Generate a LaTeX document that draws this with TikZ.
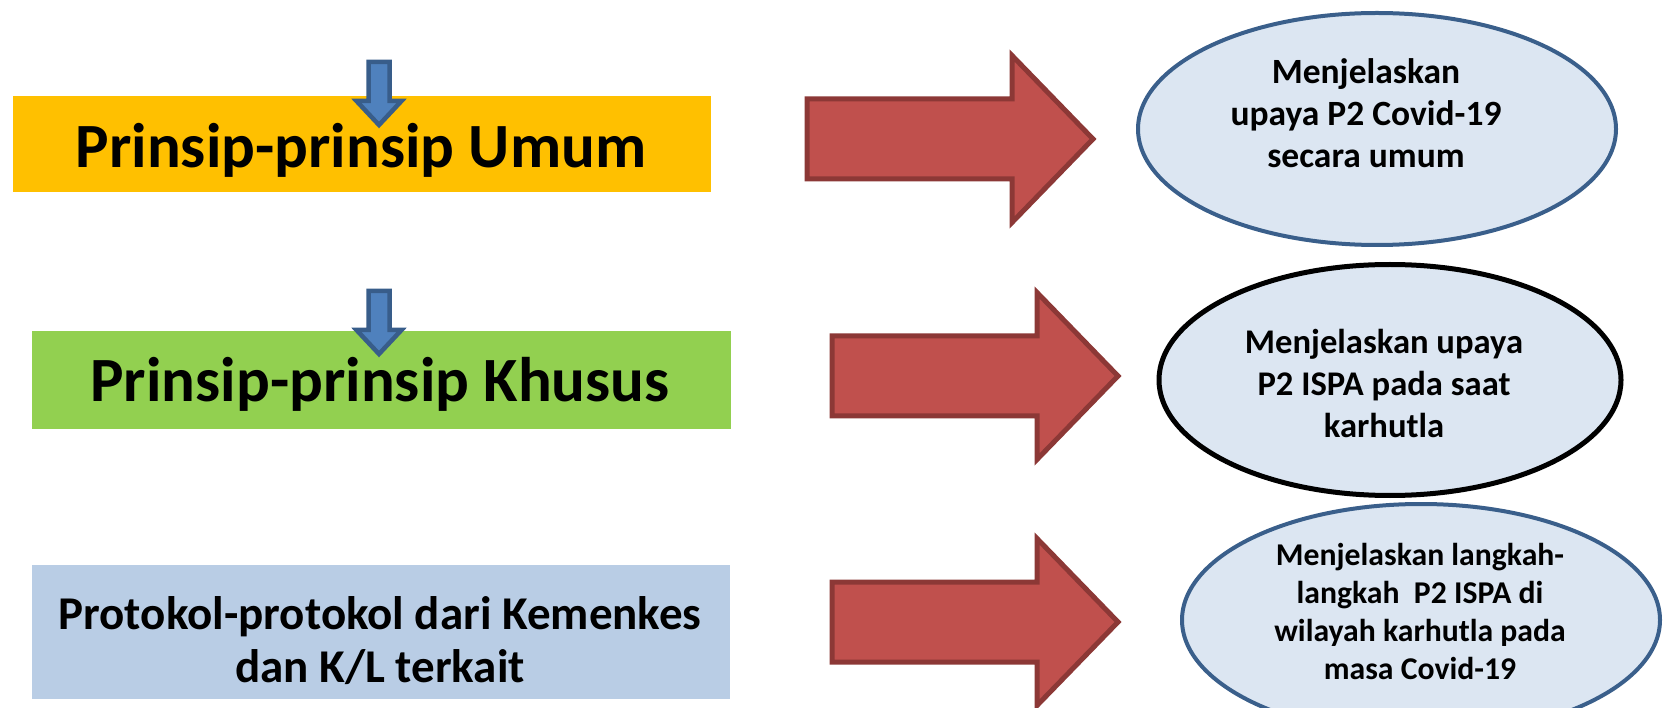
\documentclass[tikz,border=0pt]{standalone}
\usepackage{fontspec}
\setmainfont{Carlito}
\usetikzlibrary{shapes.geometric,calc}

\definecolor{boxorange}{HTML}{FFC000}
\definecolor{boxgreen}{HTML}{92D050}
\definecolor{boxblue}{HTML}{B9CDE5}
\definecolor{ovalfill}{HTML}{DCE6F2}
\definecolor{ovalline}{HTML}{3A5F8B}
\definecolor{redfill}{HTML}{C0504D}
\definecolor{redline}{HTML}{8C3836}
\definecolor{bluefill}{HTML}{4F81BD}
\definecolor{blueline}{HTML}{385D8A}

\tikzset{
  band/.style={rectangle, inner sep=0pt, draw=none},
  bandtext/.style={font=\bfseries\fontsize{63}{70}\selectfont, inner sep=0pt, anchor=base},
  oval/.style={ellipse, inner sep=0pt, fill=ovalfill, draw=ovalline, line width=4pt},
  ovaltext/.style={font=\bfseries\fontsize{35.5}{42}\selectfont, align=center, inner sep=0pt},
  bigarrow/.style={fill=redfill, draw=redline, line width=5pt, line join=miter},
  smallarrow/.style={fill=bluefill, draw=blueline, line width=4.5pt, line join=miter},
}

% right-pointing block arrow; #1 = left end of the shaft at its middle height
\newcommand{\redblock}[1]{%
  \draw[bigarrow] ($#1+(0,-40)$) -- ++(205,0) -- ++(0,-43.5) -- ++(81,83.5)
    -- ++(-81,83.5) -- ++(0,-43.5) -- ++(-205,0) -- cycle;}
% small downward block arrow; #1 = top middle of the shaft
\newcommand{\bluedrop}[1]{%
  \draw[smallarrow] ($#1+(-10.5,2)$) -- ++(21,0) -- ++(0,39) -- ++(12,0)
    -- ++(-22.5,24) -- ++(-22.5,-24) -- ++(12,0) -- cycle;}

\begin{document}
\begin{tikzpicture}[x=1pt, y=-1pt]
  \useasboundingbox (0,0) rectangle (1666,708);

  % coloured bands on the left
  \node[band, fill=boxorange, minimum width=698, minimum height=96, anchor=north west] (b1) at (13,96) {};
  \node[band, fill=boxgreen, minimum width=699, minimum height=98, anchor=north west] (b2) at (32,331) {};
  \node[band, fill=boxblue, minimum width=698, minimum height=134, anchor=north west] (b3) at (32,565) {};

  \node[bandtext] (t1) at (361,168) {Prinsip-prinsip Umum};
  \node[bandtext] (t2) at (380,402) {Prinsip-prinsip Khusus};
  % base anchor of a two-line node sits on the last line
  \node[font=\bfseries\fontsize{47}{53}\selectfont, align=center, inner sep=0pt, anchor=base] (t3) at (380,682)
    {Protokol-protokol dari Kemenkes\\dan K/L terkait};

  % small arrows dropping onto the bands
  \coordinate (d1) at (379,60);
  \coordinate (d2) at (379,289);
  \bluedrop{(d1)}
  \bluedrop{(d2)}

  % large arrows pointing to the ovals
  \coordinate (r1) at (807,139);
  \coordinate (r2) at (832,376);
  \coordinate (r3) at (832,622);
  \redblock{(r1)}
  \redblock{(r2)}
  \redblock{(r3)}

  % ovals on the right
  \node[oval, minimum width=478, minimum height=232] (e3) at (1421,620) {};
  \node[oval, minimum width=478, minimum height=232] (e1) at (1377,129) {};
  \node[oval, draw=black, line width=5pt, minimum width=462, minimum height=231] (e2) at (1390,380) {};

  \node[ovaltext] (o1) at (1366,113) {Menjelaskan\\upaya P2 Covid-19\\secara umum};
  \node[ovaltext, font=\bfseries\fontsize{34.6}{42}\selectfont] (o2) at (1384,383) {Menjelaskan upaya\\P2 ISPA pada saat\\karhutla};
  \node[ovaltext, font=\bfseries\fontsize{31.7}{38}\selectfont] (o3) at (1420,611)
    {Menjelaskan langkah-\\langkah\ \ P2 ISPA di\\wilayah karhutla pada\\masa Covid-19};
\end{tikzpicture}
\end{document}
